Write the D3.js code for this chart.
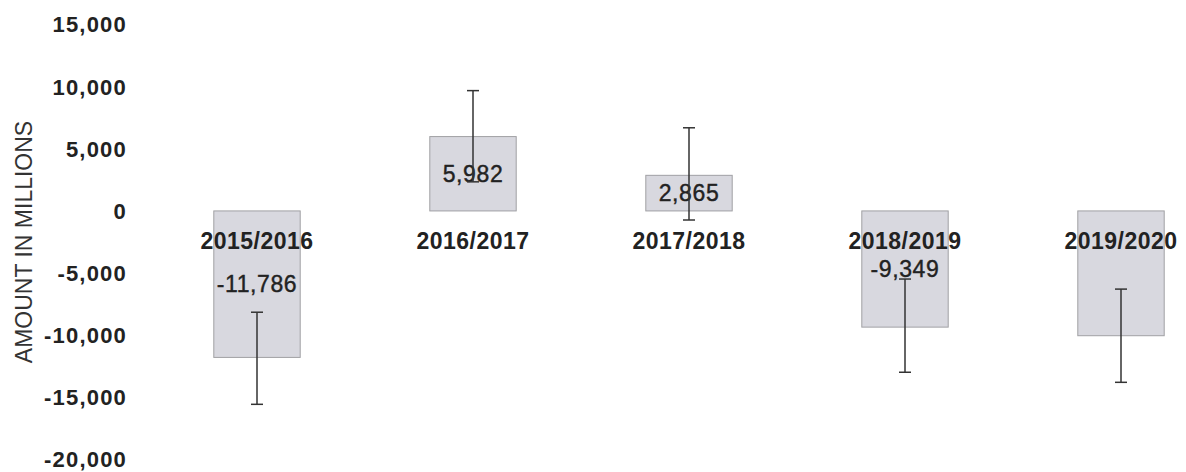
<!DOCTYPE html>
<html>
<head>
<meta charset="utf-8">
<script src="https://cdn.jsdelivr.net/npm/d3@7"></script>
<style>
  html, body { margin: 0; padding: 0; background: #fff; }
  svg { display: block; }
  text { font-family: "Liberation Sans", Arial, sans-serif; fill: #222; }
</style>
</head>
<body>
<svg id="chart" width="1186" height="472"></svg>
<script>
const categories = ["2015/2016", "2016/2017", "2017/2018", "2018/2019", "2019/2020"];
const values = [-11786, 5982, 2865, -9349, -10040];
const showValueLabel = [true, true, true, true, false];
const errHigh = [-8150, 9680, 6690, -5480, -6290];
const errLow = [-15560, 2340, -730, -12980, -13790];
const yTicks = [15000, 10000, 5000, 0, -5000, -10000, -15000, -20000];
const yTitle = "AMOUNT IN MILLIONS";

const svg = d3.select("#chart");
const fmt0 = d3.format(",");
const fmt = d => fmt0(d).replace("\u2212", "-");

const x = d3.scaleBand().domain(categories).range([149, 1229])
  .paddingInner(0.6).paddingOuter(0.3);
const y = d3.scaleLinear().domain([-20000, 15000]).range([459.5, 24.5]);

// Y axis (labels only)
const yAxis = d3.axisLeft(y).tickValues(yTicks).tickSize(0).tickPadding(0)
  .tickFormat(d => fmt(d));
const gy = svg.append("g").attr("transform", "translate(127,0)").call(yAxis);
gy.select(".domain").remove();
gy.selectAll("text")
  .attr("dy", "0.34em")
  .style("font-family", "'Liberation Sans', Arial, sans-serif")
  .style("font-size", "22px")
  .style("font-weight", "bold")
  .style("letter-spacing", "1.2px")
  .attr("fill", "#222");

// Y title
svg.append("text")
  .attr("transform", "translate(32,242) rotate(-90)")
  .attr("text-anchor", "middle")
  .style("font-size", "23px")
  .style("fill", "#333")
  .text(yTitle);

// Bars
const data = categories.map((c, i) => ({ c, v: values[i], hi: errHigh[i], lo: errLow[i], show: showValueLabel[i] }));

svg.append("g").selectAll("rect").data(data).join("rect")
  .attr("x", d => x(d.c))
  .attr("width", x.bandwidth())
  .attr("y", d => y(Math.max(0, d.v)))
  .attr("height", d => Math.abs(y(d.v) - y(0)))
  .attr("fill", "#d8d8df")
  .attr("stroke", "#a0a0a4")
  .attr("stroke-width", 1);

// Category labels
svg.append("g").selectAll("text").data(data).join("text")
  .attr("x", d => x(d.c) + x.bandwidth() / 2)
  .attr("y", y(0) + 30)
  .attr("dy", "0.35em")
  .attr("text-anchor", "middle")
  .style("font-size", "23px")
  .style("font-weight", "bold")
  .style("letter-spacing", "0.5px")
  .text(d => d.c);

// Value labels
svg.append("g").selectAll("text").data(data.filter(d => d.show)).join("text")
  .attr("x", d => x(d.c) + x.bandwidth() / 2)
  .attr("y", d => (y(d.v) + y(0)) / 2)
  .attr("dy", "0.35em")
  .attr("text-anchor", "middle")
  .style("font-size", "23px")
  .style("letter-spacing", "0.6px")
  .style("stroke", "#222")
  .style("stroke-width", "0.4px")
  .text(d => fmt(d.v));

// Error bars
const eg = svg.append("g").attr("stroke", "#333").attr("stroke-width", 1.5);
data.forEach(d => {
  const cx = x(d.c) + x.bandwidth() / 2;
  eg.append("line").attr("x1", cx).attr("x2", cx).attr("y1", y(d.hi)).attr("y2", y(d.lo));
  eg.append("line").attr("x1", cx - 6).attr("x2", cx + 6).attr("y1", y(d.hi)).attr("y2", y(d.hi));
  eg.append("line").attr("x1", cx - 6).attr("x2", cx + 6).attr("y1", y(d.lo)).attr("y2", y(d.lo));
});
</script>
</body>
</html>
